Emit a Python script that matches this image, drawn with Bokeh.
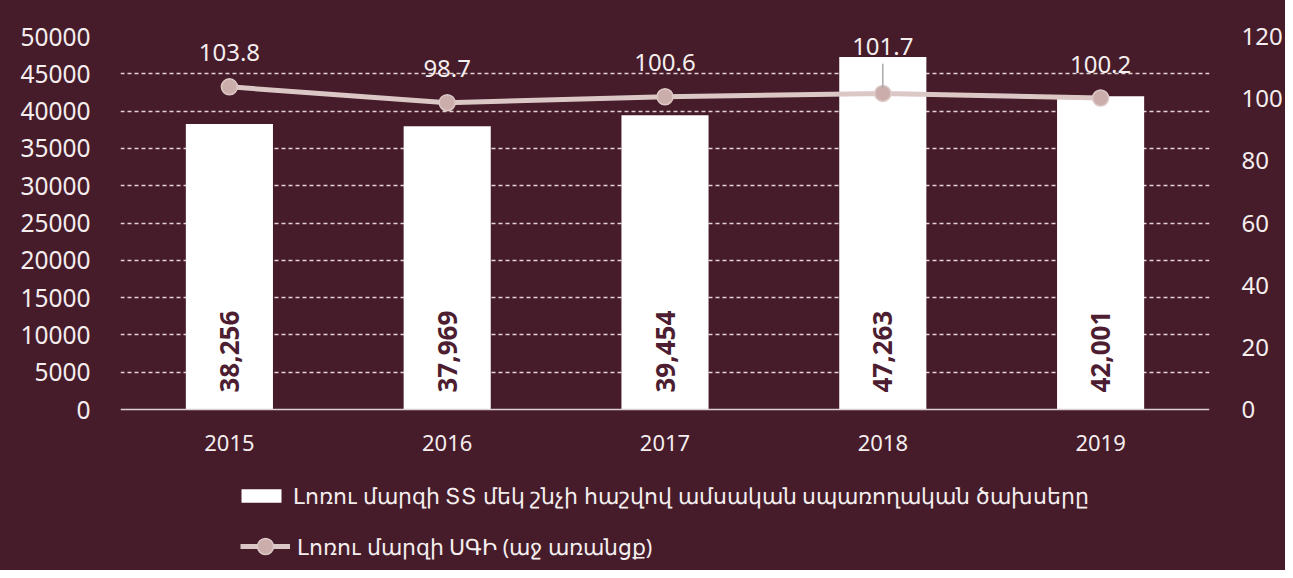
import math
from bokeh.plotting import figure
from bokeh.models import (ColumnDataSource, LinearAxis, Range1d, FixedTicker, Legend, LegendItem,
                          NumeralTickFormatter, Span)
from bokeh.core.properties import value
from bokeh.embed import file_html
from bokeh.resources import INLINE

years = ["2015", "2016", "2017", "2018", "2019"]
spend = [38256, 37969, 39454, 47263, 42001]
cpi = [103.8, 98.7, 100.6, 101.7, 100.2]
left_ticks = list(range(0, 50001, 5000))
right_ticks = list(range(0, 121, 20))
bar_name = "Լոռու մարզի ՏՏ մեկ շնչի հաշվով ամսական սպառողական ծախսերը"
line_name = "Լոռու մարզի ՍԳԻ (աջ առանցք)"

BG = "#461b2a"
FONT = "Noto Sans"
TXT = "#f4eeee"
BAR_FILL = "white"
LINE_COL = "#dbc8c6"
MARK_FILL = "#cbaeab"

W, H = 1285, 570
TOP, LEFT, RIGHT = 36, 120, 69
PLOT_PX = 373          # pixel height of the value area (0 .. top tick)
BELOW_PX = H - TOP - PLOT_PX   # space under the zero line used for year labels and legend

lmax, rmax = left_ticks[-1], right_ticks[-1]
lmin = -BELOW_PX * lmax / PLOT_PX
rmin = -BELOW_PX * rmax / PLOT_PX

src = ColumnDataSource(dict(
    x=years, spend=spend, cpi=cpi,
    spend_lbl=[f"{v:,}" for v in spend],
))

p = figure(x_range=years, y_range=Range1d(lmin, lmax), width=W, height=H,
           output_backend="svg", toolbar_location=None, x_axis_location=None,
           min_border_left=LEFT, min_border_right=RIGHT, min_border_top=TOP, min_border_bottom=0)
p.background_fill_color = BG
p.border_fill_color = BG
p.outline_line_color = None
p.styles = {"background-color": BG}
p.extra_y_ranges = {"right": Range1d(rmin, rmax)}

p.xgrid.grid_line_color = None
p.ygrid.grid_line_color = "#e3d3d3"
p.ygrid.grid_line_dash = "4 3"
p.ygrid.grid_line_width = 1.3
p.ygrid.ticker = FixedTicker(ticks=left_ticks[1:])

p.yaxis.ticker = FixedTicker(ticks=left_ticks)
p.yaxis.formatter = NumeralTickFormatter(format="0")
ax = p.yaxis[0]
ax.axis_line_color = None
ax.major_tick_line_color = None
ax.minor_tick_line_color = None
ax.major_label_text_color = TXT
ax.major_label_text_font = FONT
ax.major_label_text_font_size = "24.5px"
ax.major_label_standoff = 24

rax = LinearAxis(y_range_name="right", ticker=FixedTicker(ticks=right_ticks))
rax.axis_line_color = None
rax.major_tick_line_color = None
rax.minor_tick_line_color = None
rax.major_label_text_color = TXT
rax.major_label_text_font = FONT
rax.major_label_text_font_size = "24px"
rax.major_label_standoff = 26
p.add_layout(rax, "right")

# zero line
p.add_layout(Span(location=0, dimension="width", line_color="#d9d0d0", line_width=1.5))

# year labels (category axis)
p.text(x=years, y=[0] * len(years), text=years, y_offset=33, text_align="center",
       text_baseline="middle", text_color=TXT, text_font=value(FONT), text_font_size="22px")

bars = p.vbar(x="x", top="spend", width=0.4, source=src, fill_color=BAR_FILL, line_color=None)
p.text(x="x", y=0, text="spend_lbl", source=src, angle=math.pi / 2, y_offset=-17,
       text_align="left", text_baseline="middle", text_color="#4d1d31",
       text_font=value(FONT), text_font_size="26px", text_font_style="bold")

ln = p.line(x="x", y="cpi", source=src, y_range_name="right", line_color=LINE_COL, line_width=5)
sc = p.scatter(x="x", y="cpi", source=src, y_range_name="right", size=16,
               fill_color=MARK_FILL, line_color=LINE_COL, line_width=1.5)

# leader line for the 2018 label
p.segment(x0=[years[3]], y0=[cpi[3] + 1.5], x1=[years[3]], y1=[cpi[3] + 9.5], y_range_name="right",
          line_color="#a9a9a9", line_width=1.5)

lab_src = ColumnDataSource(dict(x=years, y=cpi, t=[f"{v:.1f}" for v in cpi],
                                off=[-34, -34, -34, -47, -34]))
p.text(x="x", y="y", text="t", source=lab_src, y_range_name="right", y_offset="off",
       text_align="center", text_baseline="middle", text_color=TXT,
       text_font=value(FONT), text_font_size="24px")


def style_legend(lg):
    lg.background_fill_alpha = 0
    lg.border_line_color = None
    lg.label_text_color = TXT
    lg.label_text_font = FONT
    lg.label_text_font_size = "21.5px"
    lg.label_standoff = 7
    lg.margin = 0


leg_a = Legend(items=[LegendItem(label=bar_name, renderers=[bars])], location=(116, 60))
style_legend(leg_a)
leg_a.glyph_width = 50
leg_a.glyph_height = 17
leg_a.padding = 4
p.add_layout(leg_a)

leg_b = Legend(items=[LegendItem(label=line_name, renderers=[ln, sc])], location=(120, 4))
style_legend(leg_b)
leg_b.glyph_width = 50
leg_b.glyph_height = 40
leg_b.padding = 0
p.add_layout(leg_b)

html = file_html(p, INLINE)
html = html.replace("<body>", '<body style="background-color:%s">' % BG, 1)
open("out.html", "w").write(html)
